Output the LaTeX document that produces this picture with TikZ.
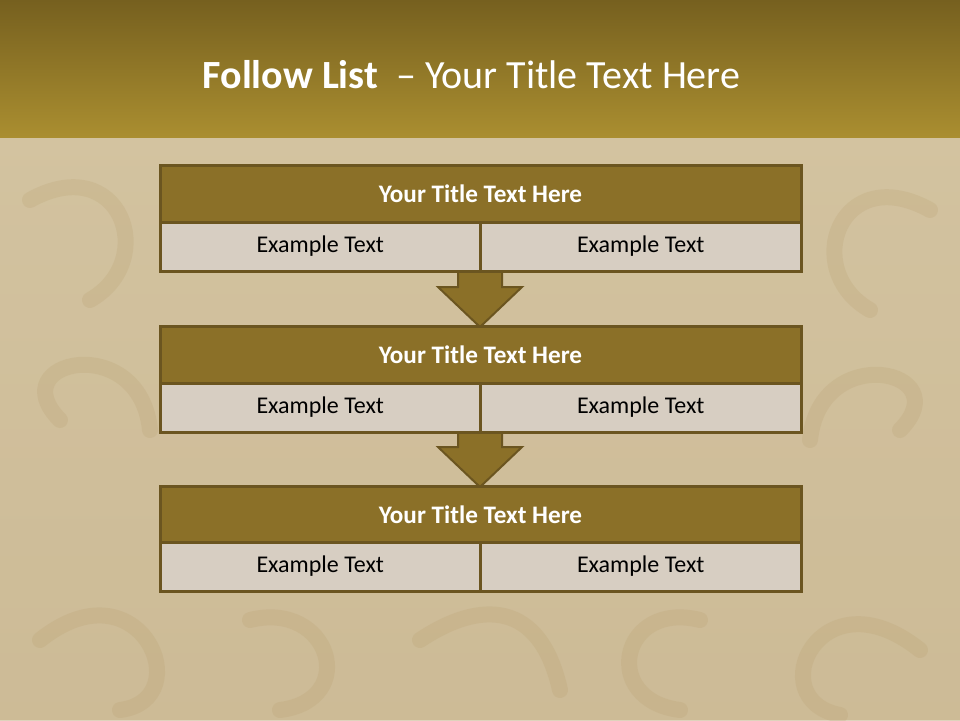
\documentclass[tikz,border=0pt]{standalone}
\usepackage{fontspec}
\setmainfont{Carlito}
\definecolor{hdrtop}{HTML}{76601F}
\definecolor{hdrbot}{HTML}{AA8E30}
\definecolor{bgtan}{HTML}{D3C3A0}
\definecolor{bgtan2}{HTML}{C9B690}
\definecolor{edge}{HTML}{6B5520}
\definecolor{titlefill}{HTML}{8B7028}
\definecolor{cellfill}{HTML}{D7CEC2}
\definecolor{swirl}{HTML}{B89F6E}
\begin{document}
\begin{tikzpicture}[x=1pt,y=-1pt,
  titlebar/.style={draw=edge,line width=3pt,fill=titlefill,minimum width=641pt,minimum height=57pt,inner sep=0pt,text=white,font=\fontsize{25.2}{30}\selectfont\bfseries},
  cell/.style={draw=edge,line width=3pt,fill=cellfill,minimum width=320.5pt,minimum height=49pt,inner sep=0pt,text=black,font=\fontsize{24}{28}\selectfont},
  downarrow/.style={draw=edge,line width=2pt,fill=titlefill,line join=miter}]
\useasboundingbox (0,0) rectangle (960,720);
% background
\fill[bgtan] (0,0) rectangle (960,720);
\shade[top color=bgtan,bottom color=bgtan2,opacity=0.6] (0,137) rectangle (960,720);
% faint ornamental swirls
\begin{scope}[draw=swirl,line width=16pt,opacity=0.22,line cap=round]
\draw (30,200) .. controls (120,150) and (160,260) .. (90,300);
\draw (60,420) .. controls (0,360) and (140,330) .. (150,430);
\draw (40,640) .. controls (140,560) and (200,700) .. (120,710);
\draw (930,210) .. controls (840,160) and (800,270) .. (870,310);
\draw (900,430) .. controls (960,370) and (820,340) .. (810,440);
\draw (920,650) .. controls (820,570) and (760,700) .. (840,715);
\draw (250,620) .. controls (330,600) and (360,700) .. (280,710);
\draw (700,620) .. controls (620,600) and (600,700) .. (680,710);
\draw (420,640) .. controls (480,600) and (540,600) .. (560,690);
\end{scope}
% header
\shade[top color=hdrtop,bottom color=hdrbot] (0,0) rectangle (960,137);
\node[text=white,font=\fontsize{40}{48}\selectfont,anchor=center] (hdr) at (471.5,75) {\textbf{Follow List} \ – Your Title Text Here};
% arrows (behind boxes)
\draw[downarrow] (458,271) -- (502,271) -- (502,287) -- (522,287) -- (480,327) -- (438,287) -- (458,287) -- cycle;
\draw[downarrow] (458,432) -- (502,432) -- (502,447) -- (522,447) -- (480,487) -- (438,447) -- (458,447) -- cycle;
% box 1
\node[titlebar] (t1) at (480.5,193.5) {Your Title Text Here};
\node[cell] (a1) at (320.25,246.5) {Example Text};
\node[cell] (b1) at (640.75,246.5) {Example Text};
% box 2
\node[titlebar] (t2) at (480.5,354.5) {Your Title Text Here};
\node[cell] (a2) at (320.25,407.5) {Example Text};
\node[cell] (b2) at (640.75,407.5) {Example Text};
% box 3
\node[titlebar] (t3) at (480.5,514.5) {Your Title Text Here};
\node[cell] (a3) at (320.25,566.5) {Example Text};
\node[cell] (b3) at (640.75,566.5) {Example Text};
\end{tikzpicture}
\end{document}
